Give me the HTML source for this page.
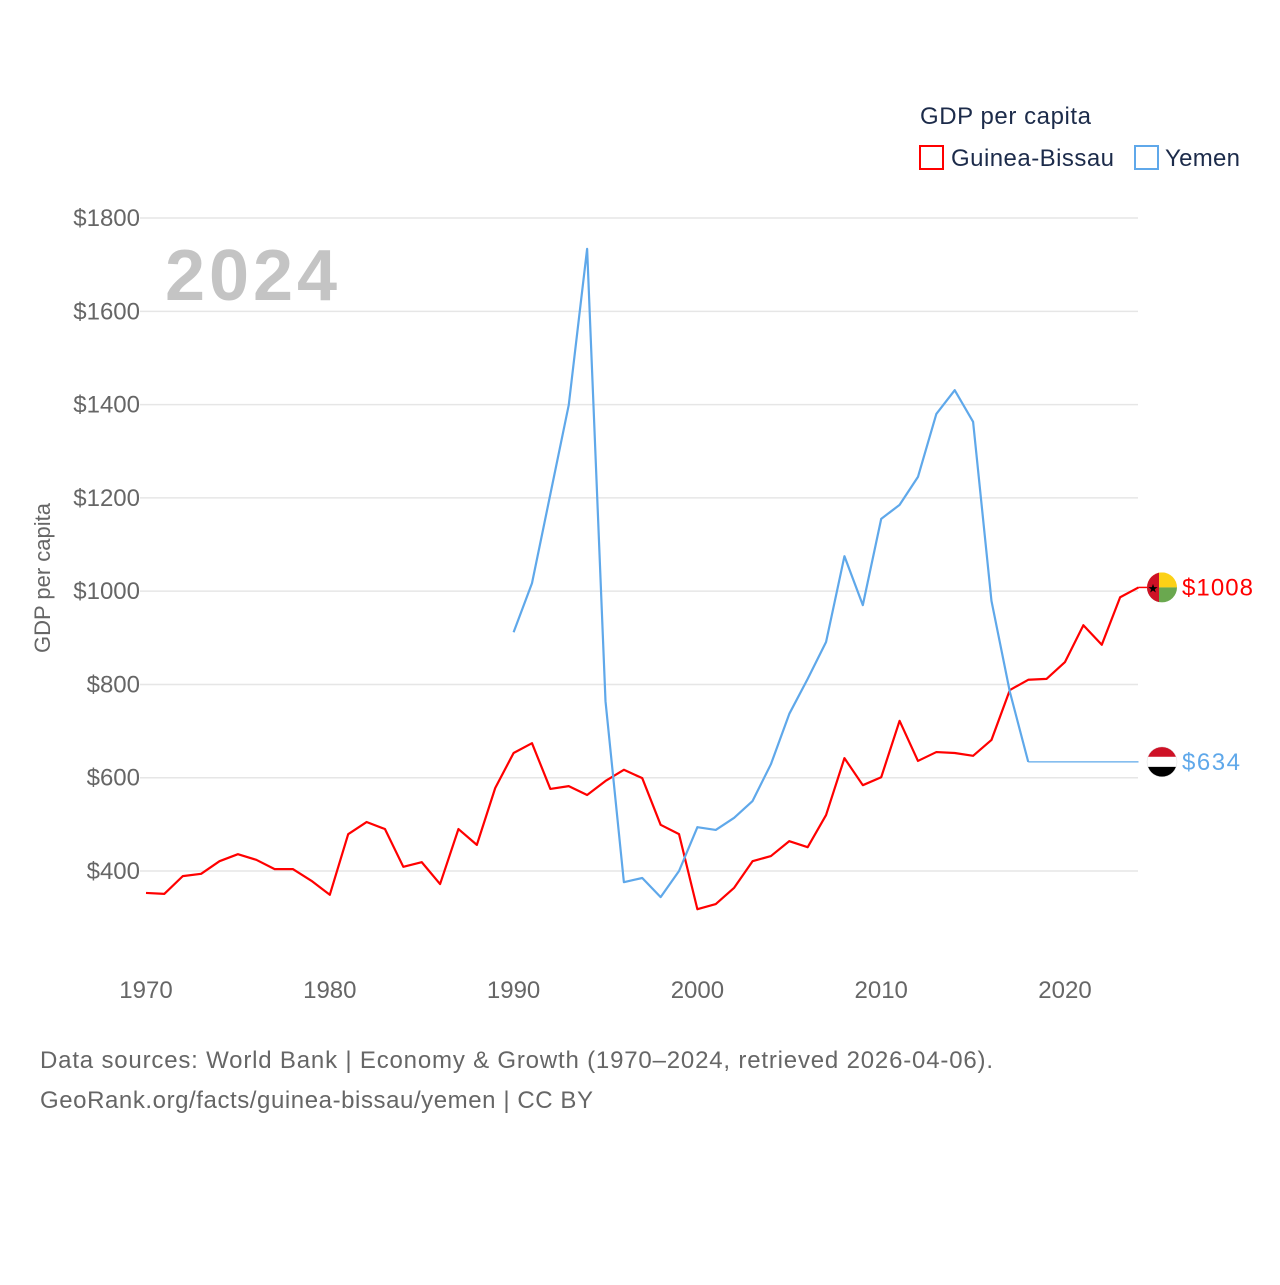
<!DOCTYPE html>
<html><head><meta charset="utf-8">
<style>
body{margin:0;background:#fff;font-family:"Liberation Sans",sans-serif;}
svg text{font-family:"Liberation Sans",sans-serif;}
</style></head>
<body>
<svg id="chart" width="1280" height="1280" viewBox="0 0 1280 1280" xmlns="http://www.w3.org/2000/svg">
<rect width="1280" height="1280" fill="#fff"/>
<text x="920" y="124" font-size="24" fill="#1c2b4a" textLength="171">GDP per capita</text>
<rect x="920" y="146" width="23" height="23" fill="none" stroke="#f00" stroke-width="2"/>
<text x="951" y="166" font-size="24" fill="#1c2b4a" textLength="163">Guinea-Bissau</text>
<rect x="1135" y="146" width="23" height="23" fill="none" stroke="#5fa8ea" stroke-width="2"/>
<text x="1165" y="166" font-size="24" fill="#1c2b4a" textLength="75">Yemen</text>
<g id="grid"></g>
<text x="165" y="300" font-size="72" font-weight="bold" fill="#c4c4c4" textLength="172">2024</text>
<text transform="translate(50,578) rotate(-90)" text-anchor="middle" font-size="22" fill="#666">GDP per capita</text>
<g id="series"></g>
<text x="40" y="1068" font-size="24" fill="#666" textLength="953">Data sources: World Bank | Economy &amp; Growth (1970–2024, retrieved 2026-04-06).</text>
<text x="40" y="1108" font-size="24" fill="#666" textLength="553">GeoRank.org/facts/guinea-bissau/yemen | CC BY</text>
</svg>
<script>
const yTicks=[400,600,800,1000,1200,1400,1600,1800];
const xTicks=[1970,1980,1990,2000,2010,2020];
const gbYears=[];for(let y=1970;y<=2024;y++)gbYears.push(y);
const gbValues=[353,351,389,394,421,436,424,404,404,379,349,479,505,490,409,419,372,490,456,578,653,674,576,582,563,593,617,599,499,479,318,329,364,421,432,464,451,520,642,584,601,722,636,655,653,647,681,788,810,812,848,927,885,987,1008];
const yeYears=[1990,1991,1992,1993,1994,1995,1996,1997,1998,1999,2000,2001,2002,2003,2004,2005,2006,2007,2008,2009,2010,2011,2012,2013,2014,2015,2016,2017,2018];
const yeValues=[912,1017,1208,1399,1734,764,376,385,344,400,494,488,514,550,629,737,812,891,1075,970,1155,1185,1245,1380,1431,1363,979,784,634];
const yeLastValue=634;const lastYear=2024;
const NS='http://www.w3.org/2000/svg';
const X=y=>146+(y-1970)*18.38;
const Y=v=>871-(v-400)*0.4664;
function el(t,a,p){const e=document.createElementNS(NS,t);for(const k in a)e.setAttribute(k,a[k]);p.appendChild(e);return e;}
const grid=document.getElementById('grid');
yTicks.forEach(v=>{
 const l=el('line',{x1:140,x2:1138,y1:Y(v),y2:Y(v),stroke:'#e6e6e6','stroke-width':1.5},grid);
 
 
 const t=el('text',{x:140,y:Y(v)+8,'text-anchor':'end','font-size':24,fill:'#666'},grid);
 t.textContent='$'+v;
 
 
});
xTicks.forEach(y=>{
 const t=el('text',{x:X(y),y:998,'text-anchor':'middle','font-size':24,fill:'#666'},grid);
 t.textContent=y;
 
 
});
const s=document.getElementById('series');
const gb=el('polyline',{points:gbYears.map((y,i)=>X(y)+','+Y(gbValues[i])).join(' '),fill:'none',stroke:'#f00','stroke-width':2.2,'stroke-linejoin':'round'},s);


const ye=el('polyline',{points:yeYears.map((y,i)=>X(y)+','+Y(yeValues[i])).join(' '),fill:'none',stroke:'#5fa8ea','stroke-width':2.2,'stroke-linejoin':'round'},s);


const yeExt=el('line',{x1:X(yeYears[yeYears.length-1]),x2:X(lastYear),y1:Y(yeLastValue),y2:Y(yeLastValue),stroke:'#5fa8ea','stroke-width':1.2},s);


const gbEnd=gbValues[gbValues.length-1];
const fx=1162;
const gy=Y(gbEnd);
const f1=el('g',{},s);


el('line',{x1:X(lastYear),x2:fx-14,y1:gy,y2:gy,stroke:'#f00','stroke-width':1.5},f1);
const cpa=el('clipPath',{id:'c1'},f1);el('circle',{cx:fx,cy:gy,r:15},cpa);
el('rect',{x:fx-15,y:gy-15,width:30,height:15,fill:'#fcd116','clip-path':'url(#c1)'},f1);
el('rect',{x:fx-15,y:gy,width:30,height:15,fill:'#6aa84f','clip-path':'url(#c1)'},f1);
el('rect',{x:fx-15,y:gy-15,width:12,height:30,fill:'#ce1126','clip-path':'url(#c1)'},f1);
const st=el('text',{x:fx-9,y:gy+5,'text-anchor':'middle','font-size':12,fill:'#000'},f1);st.textContent='★';
const l1=el('text',{x:1182,y:gy+8,'font-size':24,fill:'#f00',textLength:71},s);
l1.textContent='$'+gbEnd;


const yy=Y(yeLastValue);
const f2=el('g',{},s);


const cp=el('clipPath',{id:'c2'},f2);el('circle',{cx:fx,cy:yy,r:15},cp);
el('rect',{x:fx-15,y:yy-15,width:30,height:10,fill:'#ce1126','clip-path':'url(#c2)'},f2);
el('rect',{x:fx-15,y:yy-5,width:30,height:10,fill:'#fff','clip-path':'url(#c2)'},f2);
el('rect',{x:fx-15,y:yy+5,width:30,height:10,fill:'#000','clip-path':'url(#c2)'},f2);
el('circle',{cx:fx,cy:yy,r:15,fill:'none',stroke:'#ddd','stroke-width':0.5},f2);
const l2=el('text',{x:1182,y:yy+8,'font-size':24,fill:'#5fa8ea',textLength:58},s);
l2.textContent='$'+yeLastValue;


</script>
</body></html>
